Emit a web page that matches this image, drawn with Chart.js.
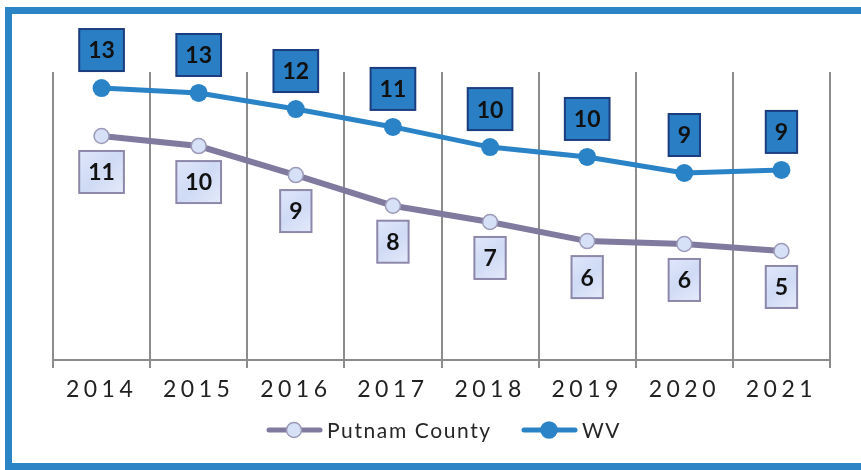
<!DOCTYPE html>
<html>
<head>
<meta charset="utf-8">
<script src="https://cdn.jsdelivr.net/npm/chart.js@4"></script>
<style>
  html, body { margin: 0; padding: 0; background: #fff; overflow: hidden; }
  #wrap { position: relative; width: 861px; height: 470px; }
  #frame {
    position: absolute; left: 5px; top: 7px; width: 880px; height: 463px;
    box-sizing: border-box; border: 7px solid #2b84c6; pointer-events: none;
  }
</style>
</head>
<body>
<div id="wrap">
  <canvas id="chart" width="861" height="470"></canvas>
  <div id="frame"></div>
</div>
<script>
// Data.
var years = ['2014', '2015', '2016', '2017', '2018', '2019', '2020', '2021'];
var putnamValues = [10.89, 10.40, 8.99, 7.5, 6.71, 5.78, 5.64, 5.30];
var wvValues = [13.22, 12.98, 12.20, 11.33, 10.35, 9.87, 9.09, 9.24];

var putnamColor = '#7f7a9e';
var putnamPoint = '#d6e0f6';
var wvColor = '#2a83c6';
var gridColor = '#8c8c8c';

/**
 * Boxed value labels above (WV) or below (Putnam) each point.
 */
var boxLabels = {
  id: 'boxLabels',
  beforeDraw: function (chart) {
    chart.ctx.letterSpacing = '4.5px';
  },
  beforeDatasetsDraw: function (chart) {
    chart.ctx.letterSpacing = '0px';
  },
  afterDatasetsDraw: function (chart) {
    var ctx = chart.ctx;
    chart.data.datasets.forEach(function (ds, i) {
      var meta = chart.getDatasetMeta(i);
      meta.data.forEach(function (pt, j) {
        var txt = String(Math.round(ds.data[j]));
        ctx.save();
        ctx.font = 'bold 23px Lato';
        var w = ctx.measureText(txt).width + 18;
        var h = 42;
        var cy = ds.label === 'WV' ? pt.y - 38 : pt.y + 36;
        var x = pt.x - w / 2, y = cy - h / 2;
        if (ds.label === 'WV') {
          ctx.fillStyle = '#2a7fc4';
          ctx.strokeStyle = '#1b3c7e';
        } else {
          var g = ctx.createLinearGradient(x, y, x + w, y + h);
          g.addColorStop(0, '#dfe7fb');
          g.addColorStop(0.5, '#cfdaf4');
          g.addColorStop(1, '#e4eafb');
          ctx.fillStyle = g;
          ctx.strokeStyle = '#8d88aa';
        }
        ctx.lineWidth = 2;
        ctx.fillRect(x, y, w, h);
        ctx.strokeRect(x, y, w, h);
        ctx.fillStyle = '#111';
        ctx.textAlign = 'center';
        ctx.textBaseline = 'middle';
        ctx.fillText(txt, pt.x, cy + 1);
        ctx.restore();
      });
    });
  },
  afterDraw: function (chart) {
    // Legend: line with marker, then name.
    var ctx = chart.ctx;
    var items = [
      { x: 267, label: 'Putnam County', line: putnamColor, fill: putnamPoint, border: '#9c9ab8', r: 7.5 },
      { x: 522, label: 'WV', line: wvColor, fill: wvColor, border: wvColor, r: 8 }
    ];
    var ly = 430;
    ctx.save();
    items.forEach(function (it) {
      ctx.strokeStyle = it.line;
      ctx.lineWidth = 5;
      ctx.lineCap = 'round';
      ctx.beginPath();
      ctx.moveTo(it.x + 2, ly);
      ctx.lineTo(it.x + 53, ly);
      ctx.stroke();
      ctx.beginPath();
      ctx.arc(it.x + 27, ly, it.r, 0, Math.PI * 2);
      ctx.fillStyle = it.fill;
      ctx.fill();
      ctx.lineWidth = 1.5;
      ctx.strokeStyle = it.border;
      ctx.stroke();
      ctx.font = '21px Lato';
      ctx.letterSpacing = '1.6px';
      ctx.fillStyle = '#262626';
      ctx.textAlign = 'left';
      ctx.textBaseline = 'middle';
      ctx.fillText(it.label, it.x + 60, ly + 1);
    });
    ctx.restore();
  }
};

var ctx = document.getElementById('chart');
var chart = new Chart(ctx, {
  type: 'line',
  data: {
    labels: years,
    datasets: [
      {
        label: 'Putnam County',
        data: putnamValues,
        borderColor: putnamColor,
        borderWidth: 6,
        pointRadius: 7.5,
        pointBackgroundColor: putnamPoint,
        pointBorderColor: '#9c9ab8',
        pointBorderWidth: 1.5,
        tension: 0
      },
      {
        label: 'WV',
        data: wvValues,
        borderColor: wvColor,
        borderWidth: 5,
        pointRadius: 9,
        pointBackgroundColor: wvColor,
        pointBorderColor: wvColor,
        pointBorderWidth: 0,
        tension: 0
      }
    ]
  },
  options: {
    responsive: false,
    animation: false,
    layout: { padding: { left: 53, right: 31, top: 72, bottom: 70 } },
    plugins: {
      legend: { display: false },
      tooltip: { enabled: false }
    },
    scales: {
      x: {
        offset: true,
        grid: {
          offset: true,
          color: gridColor,
          lineWidth: 2,
          tickLength: 8,
          drawOnChartArea: true
        },
        border: { color: gridColor, width: 2 },
        ticks: {
          color: '#222',
          font: { family: 'Lato', size: 23 },
          padding: 8
        },
        afterFit: function (scale) { scale.height = 40; }
      },
      y: {
        display: false,
        min: 0,
        max: 14
      }
    }
  },
  plugins: [boxLabels]
});
</script>
</body>
</html>
